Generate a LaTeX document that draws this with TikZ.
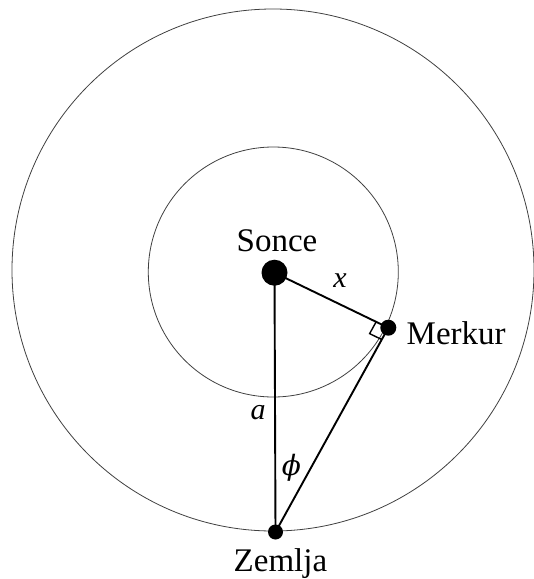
\documentclass[tikz,border=0pt]{standalone}
\usepackage{fontspec}
\setmainfont{Liberation Serif}
\newfontfamily\tnr{Liberation Serif}
\newfontfamily\dvs{DejaVu Serif}
\usetikzlibrary{calc}
\begin{document}
\begin{tikzpicture}[x=1pt,y=-1pt,
  orbit/.style={draw=black!75,line width=0.8pt},
  planet/.style={circle,fill=black,inner sep=0pt},
  conn/.style={line width=1.9pt},
  tname/.style={inner sep=0pt,anchor=base west,font=\tnr\fontsize{33}{38}\selectfont},
  tlab/.style={inner sep=0pt,font=\tnr\fontsize{30}{34}\selectfont\itshape}]
\useasboundingbox (0,0) rectangle (534,579);
\draw[orbit] (273,270) circle[radius=261];
\draw[orbit] (273.3,272) circle[radius=125];
\coordinate (s) at (274.5,272.7);
\coordinate (m) at (388.3,327.7);
\coordinate (e) at (275.5,532);
\draw[conn] (s) -- (m);
\draw[conn] (s) -- (e);
\draw[conn] (m) -- (e);
\coordinate (q1) at ($(m)!13.5pt!(s)$);
\coordinate (q3) at ($(m)!13.5pt!(e)$);
\draw[line width=1.4pt] (q1) -- ($(q1)+(q3)-(m)$) -- (q3);
\node[planet,minimum size=26pt] (sun) at (s) {};
\node[planet,minimum size=16pt] (merc) at (m) {};
\node[planet,minimum size=15pt] (earth) at (e) {};
\node[tname] (tsun) at (236.5,251) {Sonce};
\node[tname] (tmerc) at (406.5,344.3) {Merkur};
\node[tname] (tearth) at (233.5,571.7) {Zemlja};
\node[tlab] (lx) at (340,281) {x};
\node[tlab] (la) at (258,413) {a};
\node[inner sep=0pt,font=\dvs\fontsize{28}{32}\selectfont\itshape] (lphi) at (291.5,468) {ϕ};
\end{tikzpicture}
\end{document}
